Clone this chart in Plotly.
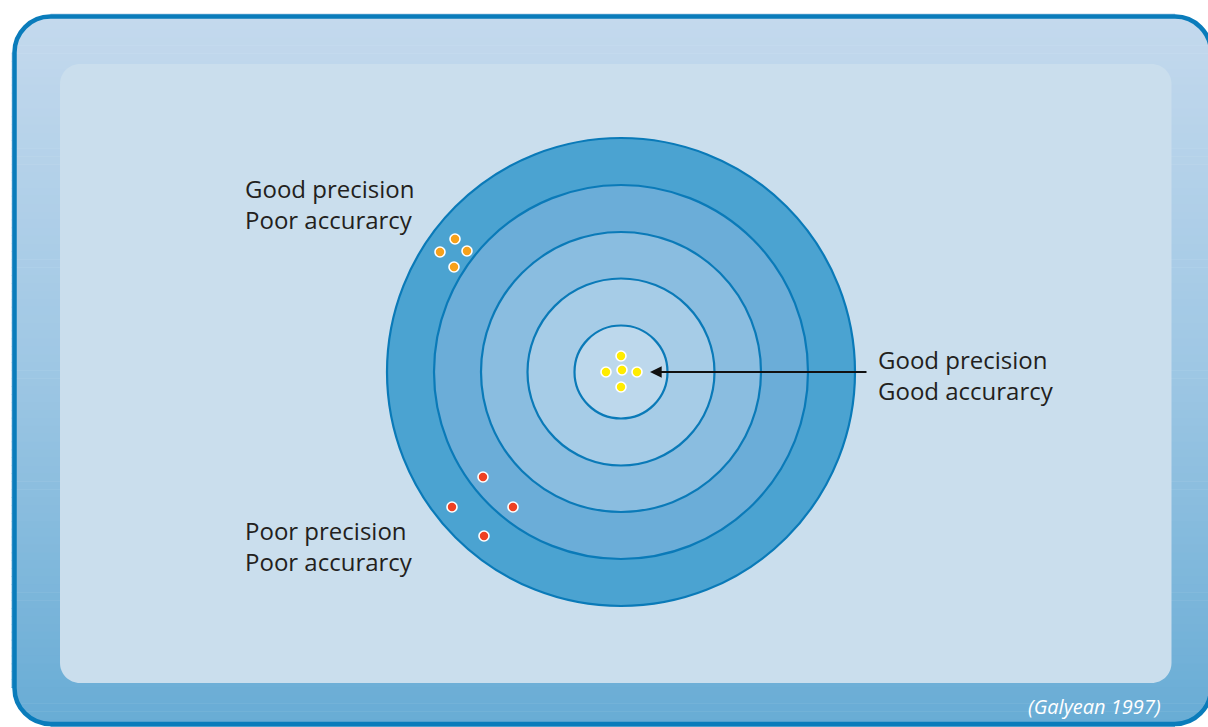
import plotly.graph_objects as go
import numpy as np

# ---------------- data ----------------
W, H = 1208, 727
target_center = (621, 372)
ring_radii = [234, 187, 140, 93.5, 46.5]          # outer -> inner (px units)
ring_fills = ["#4ba3d1", "#6badd8", "#8abde0", "#a6cce7", "#bdd8ec"]
ring_line = "#0a7ab8"

yellow_x = [621, 606, 622, 637, 621]
yellow_y = [356, 372, 370, 372, 387]
orange_x = [455, 440, 467, 454]
orange_y = [239, 252, 251, 267]
red_x = [483, 452, 513, 484]
red_y = [477, 507, 507, 536]

labels = ["Good precision<br>Poor accurarcy",
          "Poor precision<br>Poor accurarcy",
          "Good precision<br>Good accurarcy"]
label_x = [243, 243, 876]
label_y = [203.5, 545.5, 374.5]
source = "(Galyean 1997)"

# ---------------- helpers ----------------
K = 0.5523


def rrect_path(x0, y0, x1, y1, r):
    k = r * K
    return (f"M {x0+r},{y0} L {x1-r},{y0} "
            f"C {x1-r+k},{y0} {x1},{y0+r-k} {x1},{y0+r} "
            f"L {x1},{y1-r} "
            f"C {x1},{y1-r+k} {x1-r+k},{y1} {x1-r},{y1} "
            f"L {x0+r},{y1} "
            f"C {x0+r-k},{y1} {x0},{y1-r+k} {x0},{y1-r} "
            f"L {x0},{y0+r} "
            f"C {x0},{y0+r-k} {x0+r-k},{y0} {x0+r},{y0} Z")


def hex2rgb(h):
    h = h.lstrip("#")
    return [int(h[i:i+2], 16) for i in (0, 2, 4)]


shapes = []

# outer frame geometry
ox0, oy0, ox1, oy1, orr = 14.5, 16.5, 1211, 724, 36
top_col, mid_col, bot_col = hex2rgb("#c4d9ed"), hex2rgb("#9ec7e4"), hex2rgb("#68acd5")
n_bands = 90
ys = np.linspace(oy0 - 3, oy1 + 3, n_bands + 1)
for i in range(n_bands):
    t = i / (n_bands - 1)
    if t < 0.5:
        c = [top_col[j] + (mid_col[j] - top_col[j]) * t * 2 for j in range(3)]
    else:
        c = [mid_col[j] + (bot_col[j] - mid_col[j]) * (t - 0.5) * 2 for j in range(3)]
    col = "rgb(%d,%d,%d)" % tuple(int(round(v)) for v in c)
    shapes.append(dict(type="rect", xref="x", yref="y", x0=ox0 - 3, x1=ox1 + 3,
                       y0=ys[i], y1=ys[i + 1] + 0.6, fillcolor=col,
                       line=dict(width=0), layer="below"))

# white corner masks (outside rounded corners)
k = orr * K
pad = 4
masks = [
    f"M {ox0-pad},{oy0-pad} L {ox0+orr},{oy0-pad} L {ox0+orr},{oy0} C {ox0+orr-k},{oy0} {ox0},{oy0+orr-k} {ox0},{oy0+orr} L {ox0-pad},{oy0+orr} Z",
    f"M {ox1+pad},{oy0-pad} L {ox1-orr},{oy0-pad} L {ox1-orr},{oy0} C {ox1-orr+k},{oy0} {ox1},{oy0+orr-k} {ox1},{oy0+orr} L {ox1+pad},{oy0+orr} Z",
    f"M {ox0-pad},{oy1+pad} L {ox0+orr},{oy1+pad} L {ox0+orr},{oy1} C {ox0+orr-k},{oy1} {ox0},{oy1-orr+k} {ox0},{oy1-orr} L {ox0-pad},{oy1-orr} Z",
    f"M {ox1+pad},{oy1+pad} L {ox1-orr},{oy1+pad} L {ox1-orr},{oy1} C {ox1-orr+k},{oy1} {ox1},{oy1-orr+k} {ox1},{oy1-orr} L {ox1+pad},{oy1-orr} Z",
]
for p in masks:
    shapes.append(dict(type="path", path=p, xref="x", yref="y", fillcolor="white",
                       line=dict(width=0), layer="below"))

# border
shapes.append(dict(type="path", path=rrect_path(ox0, oy0, ox1, oy1, orr), xref="x", yref="y",
                   line=dict(color="#0a7cbb", width=4.5), fillcolor="rgba(0,0,0,0)", layer="below"))

# inner panel
shapes.append(dict(type="path", path=rrect_path(60, 64, 1171.5, 683, 20), xref="x", yref="y",
                   line=dict(width=0), fillcolor="#cadeed", layer="below"))

# target rings
cx, cy = target_center
for r, fc in zip(ring_radii, ring_fills):
    shapes.append(dict(type="circle", xref="x", yref="y", x0=cx - r, x1=cx + r,
                       y0=cy - r, y1=cy + r, fillcolor=fc,
                       line=dict(color=ring_line, width=2.2), layer="below"))

fig = go.Figure()
for xs, ys_, col in [(yellow_x, yellow_y, "#ffec00"), (orange_x, orange_y, "#f7a11a"),
                     (red_x, red_y, "#ee4123")]:
    fig.add_trace(go.Scatter(x=xs, y=ys_, mode="markers", hoverinfo="skip",
                             marker=dict(size=10, color=col, line=dict(color="white", width=1.6)),
                             showlegend=False))

annotations = []
for txt, x, y in zip(labels, label_x, label_y):
    annotations.append(dict(x=x, y=y, xref="x", yref="y", text=txt, showarrow=False,
                            xanchor="left", yanchor="middle", align="left",
                            font=dict(family="Open Sans", size=24, color="#231f20")))

annotations.append(dict(x=650, y=372, ax=868, ay=372, xref="x", yref="y", axref="x", ayref="y",
                        text="", showarrow=True, arrowhead=2, arrowsize=1.3, arrowwidth=1.8,
                        arrowcolor="#111111"))

annotations.append(dict(x=1163, y=706, xref="x", yref="y", text="<i>" + source + "</i>",
                        showarrow=False, xanchor="right", yanchor="middle",
                        font=dict(family="Open Sans", size=20, color="white")))

fig.update_layout(
    width=W, height=H, margin=dict(l=0, r=0, t=0, b=0),
    paper_bgcolor="white", plot_bgcolor="white",
    xaxis=dict(range=[0, W], visible=False, fixedrange=True),
    yaxis=dict(range=[H, 0], visible=False, fixedrange=True),
    shapes=shapes, annotations=annotations,
)
fig.write_html("out.html", config={"displayModeBar": False},
               post_script="document.body.style.margin='0';document.body.style.overflow='hidden';")
